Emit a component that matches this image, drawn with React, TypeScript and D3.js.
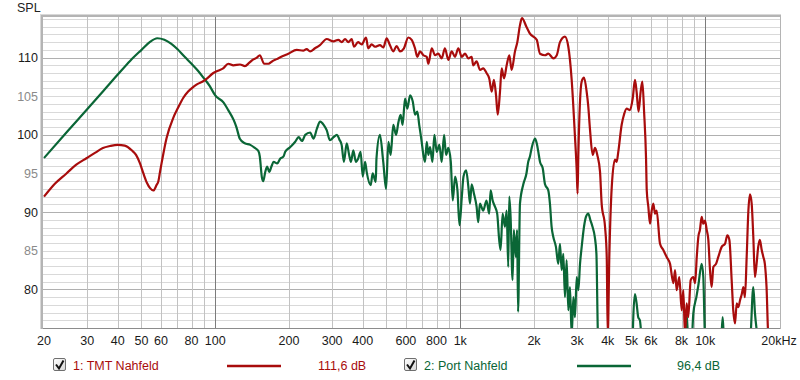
import React from "react";
import * as d3 from "d3";

// ---------- DATA ----------
const redFreq = [20,22.2,24.7,27.0,29.9,32.4,34.8,37.2,40,42.7,45.6,47.5,49.3,50.9,52.6,54.2,55.9,57.6,58.6,59.5,60.6,63.3,67.4,70.5,74.1,77.5,81.4,84.8,88.9,93.4,98.2,102.6,107.7,113,118.6,126.2,132.2,137.4,142,148,152,158.4,164.9,170.5,178.2,188.9,198.7,215,228.6,236,243.9,255.3,267.5,285,303.6,318,328.3,338.8,349.3,360.5,368.5,382.6,396,412.5,421,435,448.6,470,485,501,513.5,533,550,567.5,589,613.7,633.7,653.6,668,685,707,729.6,741,765,789,813.6,840,866,894,923,952,982,1014,1046,1079,1113,1130,1166,1205,1241,1280,1313,1344,1372,1400,1422,1453,1476,1509,1547,1586,1621,1673,1710,1753,1786,1862,1925,2052,2116,2218,2288,2400,2477,2553,2675,2761,2850,2940,2988,3012,3034,3131,3200,3280,3328,3383,3471,3549,3625,3720,3777,3899,3962,4000,4062,4154,4280,4349,4416,4559,4658,4775,4930,5057,5165,5245,5342,5450,5537,5628,5733,5771,5857,5951,6047,6139,6236,6332,6537,6743,6957,7183,7410,7530,7643,7834,8015,8137,8266,8395,8522,8721,8941,9090,9234,9372,9514,9669,9817,9977,10140,10294,10457,10620,10791,11066,11305,11673,12045,12305,12547,12818,13010,13230,13440,13650,13870,14100,14310,14520,14760,15000,15230,15470,15710,15950,16200,16450,16710,17000,17260,17510,17790,18090,19000,20000];
const redDb = [92.0,93.7,95.0,96.1,97.0,97.7,98.3,98.55,98.7,98.6,98.0,97.4,96.3,95.0,93.8,93.1,92.8,93.5,94.0,95.2,96.6,99.6,102.2,103.5,104.8,105.6,106.2,106.6,106.9,107.4,108.0,108.3,108.6,109.2,109.0,109.1,108.9,109.3,109.7,110.0,110.3,109.2,109.2,109.5,109.8,110.2,110.5,111.0,110.9,111.1,110.8,111.2,111.6,112.4,112.1,112.3,112.0,112.4,112.0,112.4,111.4,112.0,111.7,112.6,111.2,111.7,111.4,111.6,111.3,112.5,111.8,110.8,111.5,110.8,111.2,112.6,112.3,111.2,110.1,110.8,110.3,110.1,109.2,111.2,110.3,110.5,109.9,111.2,109.7,110.8,110.1,111.2,110.1,110.5,109.9,110.1,109.0,109.5,108.4,108.6,108.0,107.3,105.6,107.1,105.1,102.6,105.6,108.6,107.3,109.0,110.3,108.4,110.8,112.0,114.2,115.1,114.0,113.1,112.3,110.5,110.3,110.5,109.9,110.3,112.0,112.7,111.4,107.1,99.7,95.4,92.4,97.4,106.9,107.4,105.6,103.8,100.8,97.4,98.3,97.4,95.2,91.1,88.1,84.2,74,84.6,93.3,96.8,96.5,97.8,101.3,102.6,103.4,103.2,104.7,107.1,105.6,103.0,105.6,106.9,103.0,96.9,92.8,90.7,88.5,90.2,91.1,89.8,90.2,85.9,85.1,84.2,83.3,80.8,82.5,79.9,81.6,77.3,79.9,74,78.2,76.4,81.2,81.6,80.8,84.2,86.8,87.7,89.4,88.5,88.9,87.7,86.4,82.5,80.3,82.9,83.3,84.2,85.5,85.9,87.0,86.4,81.2,77.3,75.6,78.2,77.7,78.6,79.4,80.3,79.0,84.2,90.2,92.3,91.1,86.8,81.6,83.3,85.5,86.4,85.1,84.2,83.3,80.3,74,72,70];

const greenFreq = [20,25,30,35,40,45,50,54,58,62,66,70,75,80,85,90,95,100,108,113,119,122,126,132,139,145,150,152,155,157,160,163,166,170,173,179,184,190,193,202,212,219,226,233,244,252,260,268,277,285,294,304,314,321,328,335,344,352,358,366,375,383,392,400,409,415,431,439,452,455,470,485,498,509,520,533,547,559,571,582,595,608,624,640,654,668,680,696,707,718,730,741,753,770,784,802,822,840,859,875,894,915,932,953,974,993,1015,1031,1057,1079,1096,1113,1137,1166,1184,1203,1241,1280,1313,1330,1356,1386,1415,1442,1461,1489,1522,1547,1570,1585,1605,1635,1655,1686,1706,1722,1753,1809,1863,1894,1925,1957,2019,2052,2083,2116,2170,2218,2288,2323,2360,2397,2458,2512,2553,2594,2635,2675,2718,2761,2805,2850,2895,2940,2988,3034,3082,3131,3200,3261,3330,3402,3466,3541,3596,3650,3900,4500,5040,5080,5165,5245,5326,5410,5500,6500,8266,8400,8520,8700,8940,9200,9370,9670,9820,9977,10960,11600,11780,11950,13870,15230,15710,15950,16330,17510,20000];
const greenDb = [97.0,100.5,103.3,105.7,107.8,109.6,111.0,112.0,112.5,112.3,111.8,111.1,110.1,109.2,108.3,107.3,106.3,105.1,104.2,103.2,101.9,101.0,99.5,98.9,98.7,98.3,97.9,97.2,94.5,94.0,95.2,95.9,95.2,96.0,96.5,96.3,96.9,97.2,97.8,98.4,99.1,99.7,99.2,100.0,100.3,99.5,100.8,101.7,101.3,100.6,99.3,99.7,100.0,99.4,98.7,96.5,98.9,97.4,96.5,98.0,96.5,96.9,97.8,94.6,96.5,95.2,93.5,95.0,93.9,96.9,100.0,96.5,93.0,99.1,97.4,101.3,100.0,101.6,102.6,101.3,104.7,103.4,105.1,104.3,102.6,103.0,101.3,99.1,97.4,96.5,99.1,97.4,98.4,96.5,100.0,97.8,98.7,96.5,100.0,97.4,98.3,96.5,91.5,94.6,92.8,88.3,92.0,94.6,95.4,93.3,91.1,93.6,92.4,90.7,88.7,91.1,90.2,91.5,89.8,92.8,91.5,90.7,89.8,86.4,85.1,89.8,88.1,90.2,82.9,92.0,89.4,81.2,87.7,84.2,87.7,77.1,91.1,93.6,95.0,96.5,97.2,98.3,99.5,98.9,97.8,96.5,95.7,93.6,92.8,91.1,88.1,86.8,85.5,83.3,85.9,82.5,84.6,79.0,83.8,77.3,80.3,74,79.0,76.4,81.6,79.9,83.3,85.5,88.1,89.4,89.8,88.9,88.1,86.8,84.6,74,70,70,72,76,79.4,78.2,76.4,76.0,74,70,73,76.8,73,70,76.9,79,80.5,83.3,81.6,74,70,73,76.4,73,70,73,80.3,77,74,70,70];

const seriesNames = ["1: TMT Nahfeld", "2: Port Nahfeld"];
const seriesLevels = ["111,6 dB", "96,4 dB"];
const seriesColors = ["#a80c0c", "#0a6636"];

const yTickValues = [110, 105, 100, 95, 90, 85, 80];
const xTickValues = [20,30,40,50,60,80,100,200,300,400,600,800,1000,2000,3000,4000,5000,6000,8000,10000,20000];
const xTickLabels = ["20","30","40","50","60","80","100","200","300","400","600","800","1k","2k","3k","4k","5k","6k","8k","10k","20kHz"];

const FONT = "'Liberation Sans', Arial, sans-serif";

export default function App() {
  const W = 800, H = 380;
  const left = 43, right = 780, top = 17, bottom = 328;
  const x = d3.scaleLog().domain([20, 20000]).range([44, 779]);
  const y = d3.scaleLinear().domain([75, 115.25]).range([328, 17]);

  const series = [
    { f: redFreq, v: redDb },
    { f: greenFreq, v: greenDb },
  ];
  const line = d3.line<[number, number]>().x(d => x(d[0])).y(d => y(d[1])).curve(d3.curveMonotoneX);

  const vLines: { f: number; major: boolean }[] = [];
  [10, 100, 1000, 10000].forEach(dec => {
    for (let m = 1; m <= 9; m++) {
      const f = dec * m;
      if (f > 20 && f < 20000) vLines.push({ f, major: m === 1 });
    }
  });
  const hLines: number[] = d3.range(76, 116);

  return (
    <svg width={W} height={H} style={{ display: "block", position: "absolute", left: 0, top: 0, background: "#fff" }}>
      <defs>
        <clipPath id="plotclip">
          <rect x={left} y={top} width={right - left} height={bottom - top} />
        </clipPath>
        <linearGradient id="cbg" x1="0" y1="0" x2="1" y2="1">
          <stop offset="0" stopColor="#ffffff" />
          <stop offset="1" stopColor="#d6d6d6" />
        </linearGradient>
      </defs>
      <rect x={0} y={0} width={W} height={H} fill="#fff" />
      <rect x={left - 3} y={top - 3} width={right - left + 4} height={bottom - top + 4} fill="#d8d8d8" />
      <rect x={left - 2} y={top - 2} width={right - left + 3} height={bottom - top + 3} fill="#b4b4b4" />
      <rect x={left} y={top} width={right - left} height={bottom - top + 1} fill="#8c8c8c" />
      <rect x={left} y={top} width={right - left} height={bottom - top} fill="#ffffff" />
      {hLines.map(d => (
        <line key={"h" + d} x1={left} x2={right} y1={Math.round(y(d)) + 0.5} y2={Math.round(y(d)) + 0.5}
          stroke={d % 10 === 0 ? "#b0b0b0" : "#d9d9d9"} strokeWidth={1} />
      ))}
      {vLines.map(d => (
        <line key={"v" + d.f} x1={Math.round(x(d.f)) + 0.5} x2={Math.round(x(d.f)) + 0.5} y1={top} y2={bottom}
          stroke={d.major ? "#7c7c7c" : "#c2c2c2"} strokeWidth={1} />
      ))}
      <g clipPath="url(#plotclip)">
        {series.slice().reverse().map((s, i) => {
          const idx = series.length - 1 - i;
          const pts = s.f.map((f, j) => [f, s.v[j]] as [number, number]);
          return (
            <path key={"s" + idx} d={line(pts) || ""} fill="none" stroke={seriesColors[idx]}
              strokeWidth={2.2} strokeLinejoin="round" />
          );
        })}
      </g>
      <text x={17} y={12} fontFamily={FONT} fontSize={12.5} fill="#222">SPL</text>
      {yTickValues.map(v => (
        <text key={"yt" + v} x={38} y={y(v) + 4.5} textAnchor="end" fontFamily={FONT} fontSize={12.5}
          fill={v % 10 === 0 ? "#1a1a1a" : "#8a8a8a"}>{v}</text>
      ))}
      {xTickValues.map((f, i) => (
        <text key={"xt" + f} x={x(f)} y={345} textAnchor="middle" fontFamily={FONT} fontSize={12.5} fill="#1a1a1a">
          {xTickLabels[i]}
        </text>
      ))}
      {seriesNames.map((name, i) => {
        const ox = i === 0 ? 0 : 351;
        return (
          <g key={"lg" + i}>
            <rect x={53.5 + ox} y={358.5} width={12} height={12} rx={1.5} fill="url(#cbg)" stroke="#6f6f6f" />
            <path d={`M${56 + ox},${364.5} L${59 + ox},${368.5} L${63.5 + ox},${360.5}`} fill="none" stroke="#111" strokeWidth={2} />
            <text x={73 + ox} y={369.5} fontFamily={FONT} fontSize={12.5} fill={seriesColors[i]}>{name}</text>
            <line x1={227 + ox - (i === 0 ? 0 : 1)} x2={281 + ox - (i === 0 ? 0 : 1)} y1={366} y2={366} stroke={seriesColors[i]} strokeWidth={2.5} />
            <text x={(i === 0 ? 318 : 677)} y={369.5} fontFamily={FONT} fontSize={12.5} fill={seriesColors[i]}>{seriesLevels[i]}</text>
          </g>
        );
      })}
    </svg>
  );
}
